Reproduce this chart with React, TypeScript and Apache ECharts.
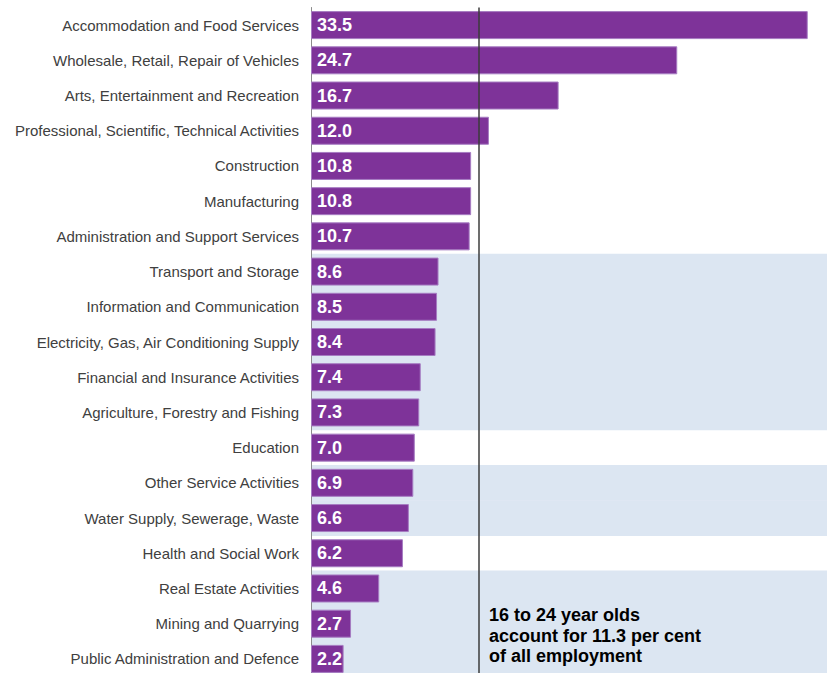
import React, { useEffect, useRef } from "react";
import * as echarts from "echarts";

const categories = [
  "Accommodation and Food Services",
  "Wholesale, Retail, Repair of Vehicles",
  "Arts, Entertainment and Recreation",
  "Professional, Scientific, Technical Activities",
  "Construction",
  "Manufacturing",
  "Administration and Support Services",
  "Transport and Storage",
  "Information and Communication",
  "Electricity, Gas, Air Conditioning Supply",
  "Financial and Insurance Activities",
  "Agriculture, Forestry and Fishing",
  "Education",
  "Other Service Activities",
  "Water Supply, Sewerage, Waste",
  "Health and Social Work",
  "Real Estate Activities",
  "Mining and Quarrying",
  "Public Administration and Defence",
];

const values = [33.5, 24.7, 16.7, 12.0, 10.8, 10.8, 10.7, 8.6, 8.5, 8.4, 7.4, 7.3, 7.0, 6.9, 6.6, 6.2, 4.6, 2.7, 2.2];

const shadedCategories = [
  "Transport and Storage",
  "Information and Communication",
  "Electricity, Gas, Air Conditioning Supply",
  "Financial and Insurance Activities",
  "Agriculture, Forestry and Fishing",
  "Other Service Activities",
  "Water Supply, Sewerage, Waste",
  "Real Estate Activities",
  "Mining and Quarrying",
  "Public Administration and Defence",
];

const averageShare = 11.3;
const annotationText = "16 to 24 year olds\naccount for 11.3 per cent\nof all employment";

export default function App() {
  const ref = useRef<HTMLDivElement>(null);

  useEffect(() => {
    if (!ref.current) return;
    const chart = echarts.init(ref.current, undefined, { renderer: "svg" });
    chart.setOption({
      animation: false,
      backgroundColor: "#ffffff",
      grid: { left: 311, top: 7.5, width: 516, height: 669, containLabel: false },
      xAxis: {
        type: "value",
        min: 0,
        max: 34.8,
        show: false,
      },
      yAxis: {
        type: "category",
        data: categories,
        inverse: true,
        axisLine: { show: true, lineStyle: { color: "#8c8c8c", width: 1 } },
        axisTick: { show: false },
        axisLabel: {
          color: "#404040",
          fontFamily: "Liberation Sans, Arial, sans-serif",
          fontSize: 15,
          margin: 12,
        },
        splitLine: { show: false },
      },
      series: [
        {
          type: "custom",
          silent: true,
          z: 1,
          data: shadedCategories.map((c) => [0, c]),
          encode: { x: 0, y: 1 },
          renderItem: (params: any, api: any) => {
            const p = api.coord([0, api.value(1)]);
            const h = api.size([0, 1])[1];
            return {
              type: "rect",
              shape: {
                x: params.coordSys.x + 1,
                y: p[1] - h / 2 - 0.3,
                width: params.coordSys.width,
                height: h + 0.6,
              },
              style: { fill: "#DCE6F2" },
            };
          },
        },
        {
          type: "bar",
          z: 3,
          data: values,
          barWidth: 28,
          itemStyle: { color: "#7E3399", borderColor: "#A67CC2", borderWidth: 1 },
          label: {
            show: true,
            position: "insideLeft",
            distance: 6,
            color: "#ffffff",
            fontWeight: "bold",
            fontSize: 18,
            fontFamily: "Liberation Sans, Arial, sans-serif",
            formatter: (p: any) => Number(p.value).toFixed(1),
          },
          markLine: {
            silent: true,
            symbol: "none",
            label: { show: false },
            lineStyle: { color: "#3c3c3c", width: 1.5, type: "solid" },
            data: [{ xAxis: averageShare }],
          },
        },
      ],
      graphic: [
        {
          type: "text",
          left: 489,
          top: 605,
          z: 10,
          style: {
            text: annotationText,
            fill: "#000000",
            font: "bold 18px 'Liberation Sans', Arial, sans-serif",
            lineHeight: 20.5,
          },
        },
      ],
    });
    return () => chart.dispose();
  }, []);

  return (
    <div style={{ position: "absolute", left: 0, top: 0, width: 827, height: 673, overflow: "hidden" }}>
      <div ref={ref} style={{ width: 827, height: 690 }} />
    </div>
  );
}
